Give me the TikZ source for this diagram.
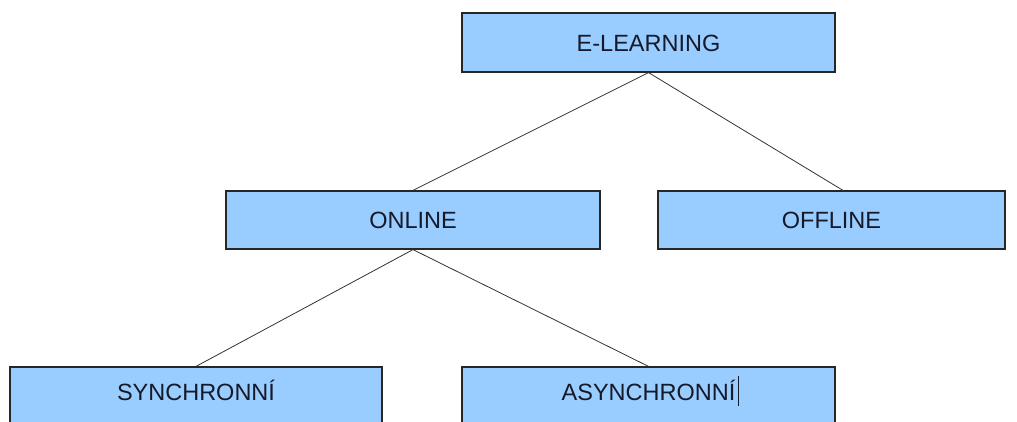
\documentclass[tikz,border=0pt]{standalone}
\usepackage{fontspec}
\setmainfont{Liberation Sans}
\definecolor{boxblue}{HTML}{99CCFF}
\definecolor{textdark}{HTML}{141A2A}

\begin{document}
\begin{tikzpicture}[x=1pt, y=-1pt,
    box/.style={draw=black!85, line width=1.2pt, fill=boxblue, inner sep=0pt,
        text=textdark, text height=17pt, text depth=0pt,
        font=\fontsize{23.5}{28}\selectfont},
    lowbox/.style={box, text depth=8pt},
    link/.style={draw=black!80, line width=0.8pt}]
    \useasboundingbox (0,0) rectangle (1017,421);
    % Top level
    \node[box, minimum width=373pt, minimum height=59pt] (elearn) at (648.5,42.5) {E-LEARNING};
    % Second level
    \node[box, minimum width=374pt, minimum height=58pt] (online) at (413,220) {ONLINE};
    \node[box, minimum width=347pt, minimum height=58pt] (offline) at (831.5,220) {OFFLINE};
    % Third level (cut off at the bottom)
    \node[lowbox, minimum width=372pt, minimum height=58pt] (sync) at (196,396) {SYNCHRONNÍ};
    \node[lowbox, minimum width=373pt, minimum height=58pt] (async) at (648.5,396)
        {ASYNCHRONNÍ\rlap{\hspace{3pt}\rule[-5pt]{1pt}{30pt}}};
    \coordinate (offtop) at (844,191);
    % Connectors
    \draw[link] (elearn.south) -- (online.north);
    \draw[link] (elearn.south) -- (offtop);
    \draw[link] (online.south) -- (sync.north);
    \draw[link] (online.south) -- (async.north);
\end{tikzpicture}
\end{document}
